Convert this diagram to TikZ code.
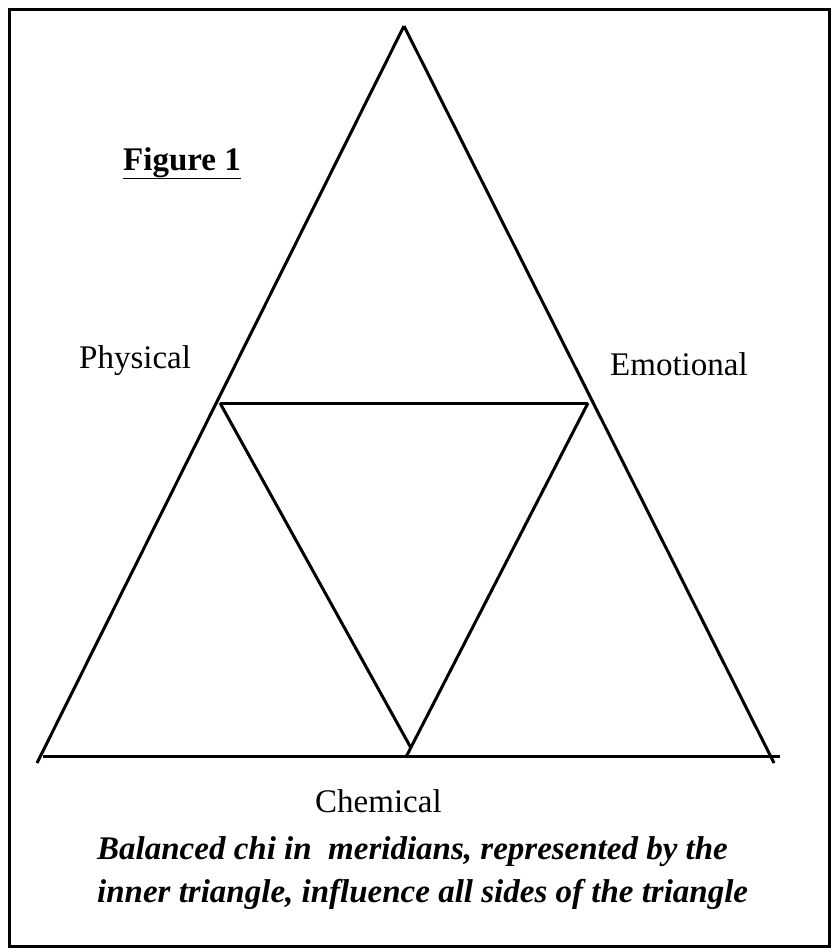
\documentclass[tikz,border=0pt]{standalone}
\usepackage{fontspec}
\setmainfont{Liberation Serif}
\usetikzlibrary{positioning}
\tikzset{
	side/.style={color=black, line width=3pt},
	frame/.style={draw=black, line width=3pt},
	sidelabel/.style={anchor=base west, inner sep=0, font=\fontsize{33}{43}\selectfont},
	titlelabel/.style={anchor=base west, inner sep=0, font=\fontsize{33}{43}\selectfont\bfseries},
	captionlabel/.style={anchor=base west, inner sep=0, align=left, font=\fontsize{33}{43}\selectfont\bfseries\itshape}
}

\begin{document}
\begin{tikzpicture}[x=1pt, y=-1pt]
		\useasboundingbox (0, 0) rectangle (833, 948);
		\draw [frame] (9, 9) rectangle (829, 946);

		\coordinate (top) at (404, 26);
		\coordinate (left) at (37, 763);
		\coordinate (right) at (774, 763);
		\coordinate (base1) at (43, 756);
		\coordinate (base2) at (780, 756);
		\coordinate (in1) at (220, 403);
		\coordinate (in2) at (588, 403);
		\coordinate (in3) at (411, 748);
		\coordinate (in4) at (406, 757);

		\node [titlelabel] (fig) at (123, 170) {\underline{Figure 1}};
		\node [sidelabel] (phys) at (79, 368) {Physical};
		\node [sidelabel] (emo) at (610, 375) {Emotional};
		\node [sidelabel] (chem) at (315, 812) {Chemical};
		% base of a two-line node is the baseline of its last line
		\node [captionlabel] (cap) at (97, 902) {Balanced chi in~ meridians, represented by the\\inner triangle, influence all sides of the triangle};

		\draw [side] (top) to (left);
		\draw [side] (top) to (right);
		\draw [side] (base1) to (base2);
		\draw [side] (in1) to (in2);
		\draw [side] (in1) to (in3);
		\draw [side] (in2) to (in4);
\end{tikzpicture}
\end{document}
